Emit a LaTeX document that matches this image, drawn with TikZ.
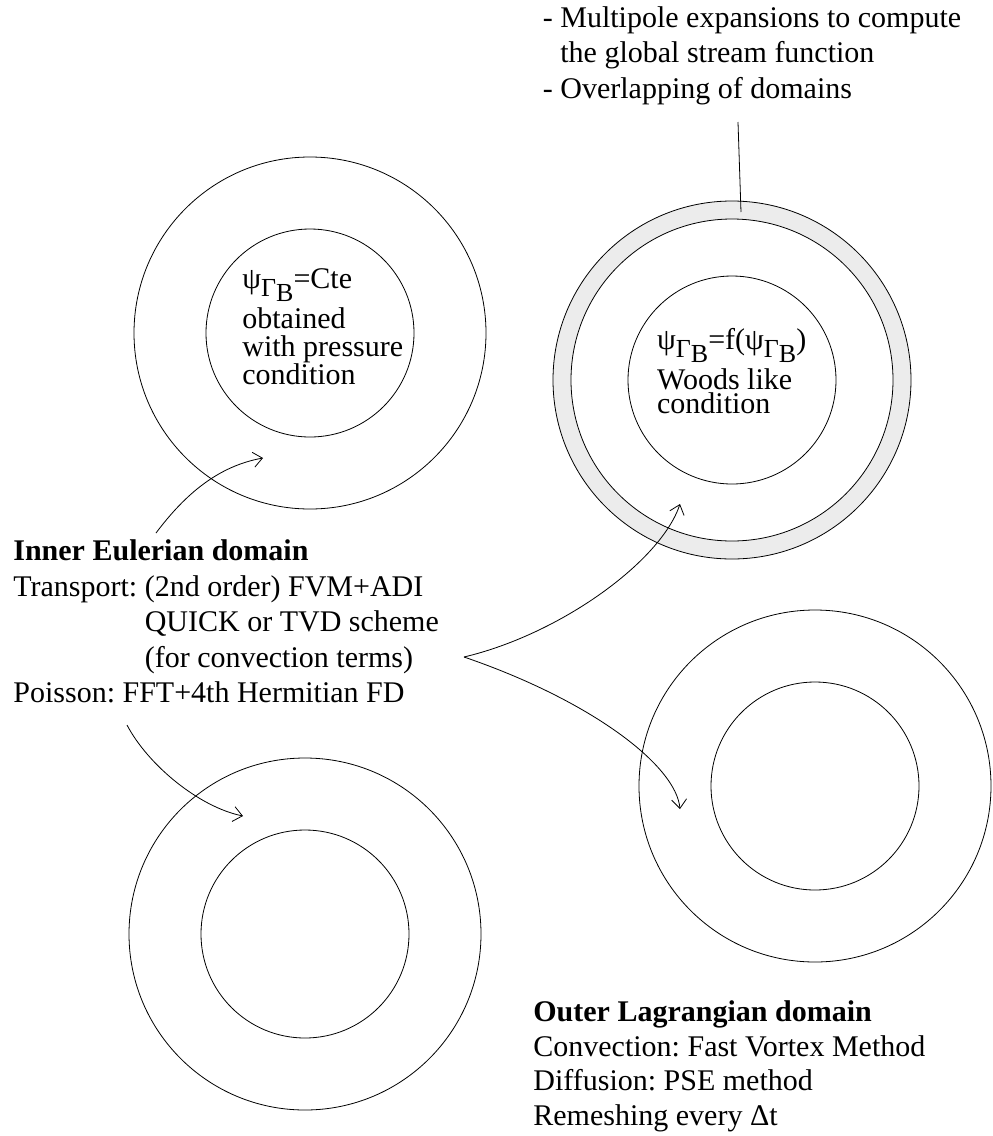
\documentclass[tikz,border=0pt]{standalone}
\usepackage{fontspec}
\setmainfont{Liberation Serif}
\usetikzlibrary{arrows.meta}

\newcommand{\subGB}{\raisebox{-8pt}[0pt][0pt]{\fontsize{26}{26}\selectfont Γ}\raisebox{-13pt}[0pt][0pt]{\fontsize{26}{26}\selectfont B}}

\tikzset{
  txt/.style={anchor=base west, align=left, inner sep=0pt, font=\fontsize{30}{35.5}\selectfont\frenchspacing},
  link/.style={-{Straight Barb[length=9pt,width=15pt]}},
}

\begin{document}
\begin{tikzpicture}[x=1pt, y=-1pt, line width=0.8pt]
\useasboundingbox (0,0) rectangle (993,1136);

% domain rings
\coordinate (tlC) at (310,333);
\coordinate (trC) at (732,380);
\coordinate (blC) at (305,934);
\coordinate (brC) at (815,786);
\draw (tlC) circle[radius=176pt];
\draw (tlC) circle[radius=104pt];
\draw[fill=gray!15] (trC) circle[radius=179pt];
\draw[fill=white] (trC) circle[radius=161pt];
\draw (trC) circle[radius=104pt];
\draw (blC) circle[radius=176pt];
\draw (blC) circle[radius=104pt];
\draw (brC) circle[radius=176pt];
\draw (brC) circle[radius=104pt];

% texts (anchored on the baseline of their last line)
\node[txt] (notes) at (542.5,98) {- Multipole expansions to compute\\
  \hphantom{-\ }the global stream function\\
  - Overlapping of domains};
\node[txt, font=\fontsize{30}{28}\selectfont] (tlText) at (242,384) {ψ\subGB=Cte\\[12pt]
  obtained\\ with pressure\\ condition};
\node[txt, font=\fontsize{30}{24}\selectfont] (trText) at (656.7,413.3) {ψ\subGB=f(ψ\subGB)\\[12pt]
  Woods like\\ condition};
\node[txt] (inner) at (13,702.7) {\textbf{Inner Eulerian domain}\\
  Transport: (2nd order) FVM+ADI\\
  \hphantom{Transport:\ }QUICK or TVD scheme\\
  \hphantom{Transport:\ }(for convection terms)\\
  Poisson: FFT+4th Hermitian FD};
\node[txt, font=\fontsize{30}{34.5}\selectfont\frenchspacing] (outer) at (533,1125) {\textbf{Outer Lagrangian domain}\\
  Convection: Fast Vortex Method\\
  Diffusion: PSE method\\
  Remeshing every Δt};

% arrows
\coordinate (lapTop) at (738,122);
\coordinate (lapEnd) at (741,212);
\coordinate (eulTop) at (156,533);
\coordinate (eulBot) at (127,725);
\coordinate (cusp) at (464,657);
\coordinate (tipTL) at (263,458);
\coordinate (tipBL) at (243,816);
\coordinate (tipTR) at (680,504);
\coordinate (tipBR) at (680,809);
\draw (lapTop) -- (lapEnd);
\draw[link] (eulTop) .. controls (186,493) and (219,466) .. (tipTL);
\draw[link] (eulBot) .. controls (148,765) and (199,807) .. (tipBL);
\draw[link] (cusp) .. controls (561,634) and (661,561) .. (tipTR);
\draw[link] (cusp) .. controls (590,700) and (676,765) .. (tipBR);
\end{tikzpicture}
\end{document}
